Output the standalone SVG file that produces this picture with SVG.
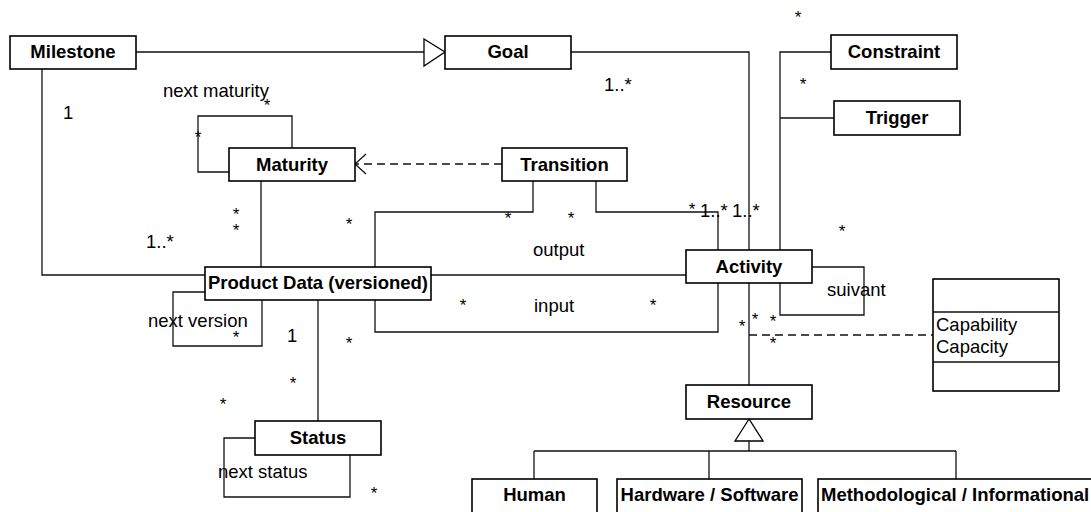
<svg xmlns="http://www.w3.org/2000/svg" width="1091" height="512" viewBox="0 0 1091 512">
<style>
.box{fill:#fff;stroke:#000;stroke-width:1.6}
.ln{fill:none;stroke:#111;stroke-width:1.3}
.dash{fill:none;stroke:#111;stroke-width:1.3;stroke-dasharray:8 5}
.tri{fill:#fff;stroke:#000;stroke-width:1.3}
.t{font-family:"Liberation Sans",Arial,sans-serif;font-size:18.5px;fill:#000}
.b{font-weight:bold;text-anchor:middle}
.s{text-anchor:middle;font-size:17px}
</style>
<rect width="1091" height="512" fill="#fff"/>
<g id="connectors">
<path class="ln" d="M136,52 H424"/>
<polygon class="tri" points="424,39 445,52 424,66"/>
<path class="ln" d="M42,69 V275 H205"/>
<path class="ln" d="M571,52 H749 V250"/>
<path class="ln" d="M831,52 H780 V250 M834,118 H780"/>
<path class="ln" d="M292,148 V116 H198 V172 H229"/>
<path class="dash" d="M502,164 H356"/>
<path class="ln" d="M366,154 L355,164 L366,174"/>
<path class="ln" d="M261,181 V267"/>
<path class="ln" d="M205,292 H173 V346 H262 V300"/>
<path class="ln" d="M596,181 V212 H718 V250"/>
<path class="ln" d="M533,181 V212 H375 V332 H718 V283"/>
<path class="ln" d="M431,275 H686"/>
<path class="ln" d="M318,300 V421"/>
<path class="ln" d="M255,438 H224 V497 H350 V455"/>
<path class="ln" d="M812,267 H864 V315 H780 V283"/>
<path class="ln" d="M749,283 V385"/>
<path class="dash" d="M749,335 H933"/>
<polygon class="tri" points="749,419 735,441 763,441"/>
<path class="ln" d="M749,441 V451 M534,451 H956 M534,451 V479 M709,451 V479 M956,451 V479"/>
</g>
<g id="milestone"><rect class="box" x="10" y="36" width="126" height="33"/><text class="t b" x="73" y="58">Milestone</text></g>
<g id="goal"><rect class="box" x="445" y="36" width="126" height="33"/><text class="t b" x="508" y="58">Goal</text></g>
<g id="constraint"><rect class="box" x="831" y="35" width="126" height="34"/><text class="t b" x="894" y="58">Constraint</text></g>
<g id="trigger"><rect class="box" x="834" y="101" width="126" height="34"/><text class="t b" x="897" y="124">Trigger</text></g>
<g id="maturity"><rect class="box" x="229" y="148" width="126" height="33"/><text class="t b" x="292" y="171">Maturity</text></g>
<g id="transition"><rect class="box" x="502" y="148" width="125" height="33"/><text class="t b" x="564.5" y="171">Transition</text></g>
<g id="productdata"><rect class="box" x="205" y="267" width="226" height="33"/><text class="t b" x="318" y="289">Product Data (versioned)</text></g>
<g id="activity"><rect class="box" x="686" y="250" width="126" height="33"/><text class="t b" x="749" y="273">Activity</text></g>
<g id="status"><rect class="box" x="255" y="421" width="126" height="34"/><text class="t b" x="318" y="444">Status</text></g>
<g id="resource"><rect class="box" x="686" y="385" width="126" height="34"/><text class="t b" x="749" y="408">Resource</text></g>
<g id="human"><rect class="box" x="472" y="479" width="125" height="40"/><text class="t b" x="534.5" y="501">Human</text></g>
<g id="hwsw"><rect class="box" x="617" y="479" width="185" height="40"/><text class="t b" x="709.5" y="501">Hardware / Software</text></g>
<g id="method"><rect class="box" x="818" y="479" width="290" height="40"/><text class="t" font-weight="bold" x="821" y="501">Methodological / Informational</text></g>
<g id="capclass"><rect class="box" x="933" y="279" width="126" height="112"/><path class="ln" d="M933,312 H1059 M933,362 H1059"/><text class="t" x="936" y="331">Capability</text><text class="t" x="936" y="353">Capacity</text></g>
<g id="labels">
<text class="t" x="163" y="97">next maturity</text>
<text class="t" x="148" y="327">next version</text>
<text class="t" x="218" y="478">next status</text>
<text class="t" x="533" y="256">output</text>
<text class="t" x="534" y="312">input</text>
<text class="t" x="827" y="296">suivant</text>
<text class="t" x="63" y="119">1</text>
<text class="t" x="287" y="342">1</text>
<text class="t" x="146" y="248">1..*</text>
<text class="t" x="604" y="91">1..*</text>
<text class="t" x="700" y="217">1..*</text>
<text class="t" x="732" y="217">1..*</text>
<text class="t s" x="798" y="23">*</text>
<text class="t s" x="803" y="90">*</text>
<text class="t s" x="267" y="111">*</text>
<text class="t s" x="198" y="143">*</text>
<text class="t s" x="236" y="220">*</text>
<text class="t s" x="236" y="236">*</text>
<text class="t s" x="349" y="230">*</text>
<text class="t s" x="508" y="224">*</text>
<text class="t s" x="571" y="224">*</text>
<text class="t s" x="692" y="215">*</text>
<text class="t s" x="842" y="237">*</text>
<text class="t s" x="463" y="311">*</text>
<text class="t s" x="653" y="311">*</text>
<text class="t s" x="236" y="343">*</text>
<text class="t s" x="349" y="349">*</text>
<text class="t s" x="742" y="332">*</text>
<text class="t s" x="755" y="325">*</text>
<text class="t s" x="773" y="327">*</text>
<text class="t s" x="773" y="349">*</text>
<text class="t s" x="293" y="389">*</text>
<text class="t s" x="223" y="410">*</text>
<text class="t s" x="374" y="499">*</text>
</g>
</svg>
